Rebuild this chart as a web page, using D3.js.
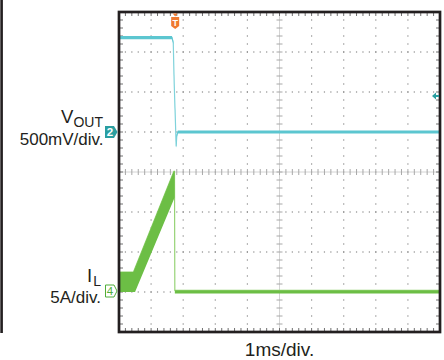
<!DOCTYPE html>
<meta charset="utf-8">
<style>
body { margin: 0; background: #fff; }
svg text { font-family: "Liberation Sans", Arial, sans-serif; fill: #231f20; }
</style>
<body>
<script src="https://d3js.org/d3.v7.min.js"></script>
<script>
// Vout, channel 2, 500mV/div (time in ms, value in V)
var voutTime  = [0, 1.65, 1.69, 1.72, 1.76, 1.78, 1.80, 1.83, 10];
var voutVolts = [1.18, 1.18, 1.12, 0.6, 0.1, -0.18, -0.05, 0, 0];

// IL, channel 4, 5A/div (time in ms, ripple envelope in A)
var ilTime  = [0, 0.45, 0.50, 1.71, 1.73, 1.74, 10];
var ilUpper = [2.5, 2.5, 3.0, 15.1, 15.1, 0.2, 0.2];
var ilLower = [0, 0, 0, 11.6, 11.8, -0.2, -0.2];

var triggerTime = 1.75;     // ms
var voutTrigLevel = 0.45;   // V

var labels = {vout: "V", voutSub: "OUT", voutScale: "500mV/div.",
              il: "I", ilSub: "L", ilScale: "5A/div.", time: "1ms/div."};

var W = 444, H = 360;
var pLeft = 119, pRight = 440, pTop = 12, pBottom = 332;

var x = d3.scaleLinear().domain([0, 10]).range([pLeft, pRight]);
var yDiv = d3.scaleLinear().domain([4, -4]).range([pTop, pBottom]);
var yV = d3.scaleLinear().domain([0, 1]).range([132, 52]);   // 80px per V
var yI = d3.scaleLinear().domain([0, 5]).range([292, 252]);   // 40px per 5A

var svg = d3.select("body").append("svg")
    .attr("width", W)
    .attr("height", H);

// left side bar
svg.append("rect").attr("x", 0.3).attr("y", 0).attr("width", 2.6).attr("height", pBottom + 1)
    .attr("fill", "#231f20");

// grid dots
var g = svg.append("g");
var minorX = d3.range(0, 10.001, 0.2);
var minorY = d3.range(-4, 4.001, 0.2);
[-3, -2, -1, 1, 2, 3].forEach(function(d) {
  g.selectAll(null).data(minorX).enter().append("rect")
      .attr("x", function(t) { return x(t) - 0.6; })
      .attr("y", yDiv(d) - 0.6)
      .attr("width", 1.2).attr("height", 1.2)
      .attr("fill", "#8a8a8a");
});
[1, 2, 3, 4, 6, 7, 8, 9].forEach(function(t) {
  g.selectAll(null).data(minorY).enter().append("rect")
      .attr("x", x(t) - 0.6)
      .attr("y", function(d) { return yDiv(d) - 0.6; })
      .attr("width", 1.2).attr("height", 1.2)
      .attr("fill", "#8a8a8a");
});

// center crosshair
g.append("line").attr("x1", pLeft).attr("x2", pRight).attr("y1", yDiv(0)).attr("y2", yDiv(0))
    .attr("stroke", "#d4d4d4").attr("stroke-width", 1);
g.append("line").attr("x1", x(5)).attr("x2", x(5)).attr("y1", pTop).attr("y2", pBottom)
    .attr("stroke", "#d4d4d4").attr("stroke-width", 1);
g.selectAll(null).data(minorX).enter().append("line")
    .attr("x1", function(t) { return x(t); }).attr("x2", function(t) { return x(t); })
    .attr("y1", yDiv(0) - 3).attr("y2", yDiv(0) + 3)
    .attr("stroke", "#a8a8a8").attr("stroke-width", 1);
g.selectAll(null).data(minorY).enter().append("line")
    .attr("x1", x(5) - 3).attr("x2", x(5) + 3)
    .attr("y1", function(d) { return yDiv(d); }).attr("y2", function(d) { return yDiv(d); })
    .attr("stroke", "#a8a8a8").attr("stroke-width", 1);

// border ticks
g.selectAll(null).data(minorX).enter().append("path")
    .attr("d", function(t) {
      return "M" + x(t) + "," + pTop + "v4M" + x(t) + "," + pBottom + "v-4";
    })
    .attr("stroke", "#707070").attr("stroke-width", 1);
g.selectAll(null).data(minorY).enter().append("path")
    .attr("d", function(d) {
      return "M" + pLeft + "," + yDiv(d) + "h4M" + pRight + "," + yDiv(d) + "h-4";
    })
    .attr("stroke", "#707070").attr("stroke-width", 1);

// IL trace: thin edge line first (shows the fast fall), ripple band on top
var il = ilTime.map(function(t, i) { return {t: t, hi: ilUpper[i], lo: ilLower[i]}; });
svg.append("path")
    .datum(il)
    .attr("fill", "none")
    .attr("stroke", "#8fd06c")
    .attr("stroke-width", 1.1)
    .attr("d", d3.line()
        .x(function(d) { return x(d.t); })
        .y(function(d) { return yI(d.hi); }));
svg.append("path")
    .datum(il)
    .attr("fill", "#6cbe45")
    .attr("d", d3.area()
        .x(function(d) { return x(d.t); })
        .y0(function(d) { return yI(d.lo); })
        .y1(function(d) { return yI(d.hi); }));

// Vout trace
var vout = voutTime.map(function(t, i) { return {t: t, v: voutVolts[i]}; });
svg.append("path")
    .datum(vout)
    .attr("fill", "none")
    .attr("stroke", "#84d4dc")
    .attr("stroke-width", 1.2)
    .attr("d", d3.line()
        .x(function(d) { return x(d.t); })
        .y(function(d) { return yV(d.v); }));
svg.append("path")
    .datum(vout)
    .attr("fill", "#5cc6d0")
    .attr("d", d3.area()
        .x(function(d) { return x(d.t); })
        .y0(function(d) { return yV(d.v - 0.02); })
        .y1(function(d) { return yV(d.v + 0.02); }));

// frame
svg.append("rect")
    .attr("x", pLeft).attr("y", pTop)
    .attr("width", pRight - pLeft).attr("height", pBottom - pTop)
    .attr("fill", "none")
    .attr("stroke", "#231f20")
    .attr("stroke-width", 2.7);

// trigger marker
var tx = x(triggerTime);
svg.append("path")
    .attr("d", "M" + (tx - 2.5) + "," + (pTop + 1.5) + "h5l-2.5,3z")
    .attr("fill", "#f07a30");
svg.append("path")
    .attr("d", "M" + (tx - 4) + ",17h8v9l-4,3l-4,-3z")
    .attr("fill", "#f07a30");
svg.append("text").attr("x", tx).attr("y", 25.5)
    .attr("text-anchor", "middle")
    .style("font-size", "9px").style("font-weight", "bold").style("fill", "#fff")
    .text("T");

// trigger level arrow (right)
var ty = yV(voutTrigLevel);
svg.append("path")
    .attr("d", "M432," + ty + "l4,-3.5v2.5h3v2h-3v2.5z")
    .attr("fill", "#2a9ea0");

// channel markers
var y2 = yV(0);
svg.append("path")
    .attr("d", "M105," + (y2 - 6) + "h9l3.5,6l-3.5,6h-9z")
    .attr("fill", "#2a9ea0");
svg.append("text").attr("x", 110).attr("y", y2 + 4.2)
    .attr("text-anchor", "middle")
    .style("font-size", "11.5px").style("font-weight", "bold").style("fill", "#fff")
    .text("2");

var y4 = yI(0) - 1;
svg.append("path")
    .attr("d", "M105.5," + (y4 - 6) + "h8.5l3,6l-3,6h-8.5z")
    .attr("fill", "#fff")
    .attr("stroke", "#4fae3a")
    .attr("stroke-width", 1);
svg.append("text").attr("x", 110).attr("y", y4 + 4.2)
    .attr("text-anchor", "middle")
    .style("font-size", "11.5px").style("fill", "#4fae3a")
    .text("4");

// channel labels
var t1 = svg.append("text").attr("x", 103).attr("y", 123).attr("text-anchor", "end");
t1.append("tspan").style("font-size", "18.5px").text(labels.vout);
t1.append("tspan").attr("dy", 3.7).style("font-size", "14px").text(labels.voutSub);
svg.append("text").attr("x", 103.5).attr("y", 145).attr("text-anchor", "end")
    .style("font-size", "17px").text(labels.voutScale);

var t2 = svg.append("text").attr("x", 101).attr("y", 281.5).attr("text-anchor", "end");
t2.append("tspan").style("font-size", "18.5px").text(labels.il);
t2.append("tspan").attr("dx", 1).attr("dy", 4.5).style("font-size", "14px").text(labels.ilSub);
svg.append("text").attr("x", 101).attr("y", 303).attr("text-anchor", "end")
    .style("font-size", "17px").text(labels.ilScale);

svg.append("text").attr("x", (pLeft + pRight) / 2).attr("y", 356)
    .attr("text-anchor", "middle")
    .style("font-size", "19px").text(labels.time);
</script>
</body>
